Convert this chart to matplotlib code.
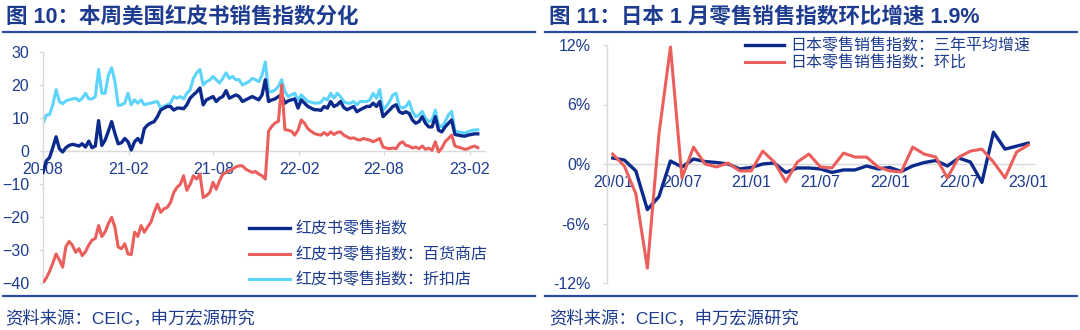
import matplotlib
matplotlib.use('Agg')
import matplotlib.pyplot as plt
import pandas as pd
import numpy as np

plt.rcParams['font.family'] = ['Liberation Sans', 'Noto Sans CJK SC']

# ---------------- data: left chart (weekly, Redbook YoY %) ----------------
start_date = '2020-08-01'
redbook_total = [
    -6.5, -3.0, -2.0, 1.0, 4.3, 0.7, -0.3, 1.0, 1.7, 2.0,
    1.8, 1.5, 2.2, 1.2, 3.0, 1.0, 1.5, 9.2, 1.7, 3.3,
    6.0, 8.9, 5.3, 2.2, 2.5, 3.8, 2.8, 0.3, 2.8, 3.8,
    2.5, 6.8, 7.9, 8.5, 8.9, 10.4, 12.4, 13.0, 13.5, 13.5,
    12.4, 13.0, 13.0, 12.8, 14.0, 16.0, 17.0, 17.9, 19.1, 14.0,
    15.5, 16.0, 16.5, 15.0, 16.0, 16.5, 18.3, 16.0, 16.5, 17.0,
    16.5, 15.0, 15.5, 16.0, 16.5, 16.0, 15.5, 17.0, 21.6, 15.0,
    15.5, 15.8, 16.5, 17.0, 14.5, 15.2, 15.5, 15.8, 13.0, 15.5,
    14.5, 13.5, 13.0, 12.5, 12.5, 12.3, 13.5, 13.0, 15.0, 13.5,
    14.0, 15.0, 13.2, 12.5, 13.0, 13.5, 11.9, 12.5, 13.0, 13.5,
    13.5, 14.5, 13.5, 15.0, 10.4, 11.4, 12.4, 13.5, 14.0, 11.9,
    11.4, 11.9, 11.4, 9.4, 8.4, 8.9, 10.4, 8.4, 7.3, 7.3,
    10.4, 6.3, 5.8, 7.3, 8.4, 9.4, 5.0, 4.8, 4.6, 4.5,
    4.8, 5.0, 5.2, 5.2,
]
redbook_dept = [
    -40.0, -38.5, -36.5, -34.0, -31.2, -33.0, -35.2, -29.0, -27.4, -28.6,
    -30.7, -29.6, -31.7, -30.5, -28.5, -27.0, -26.5, -22.6, -25.9, -24.5,
    -22.0, -20.1, -23.1, -29.1, -29.6, -28.1, -31.2, -31.4, -24.6, -25.9,
    -22.6, -24.6, -23.0, -21.6, -18.6, -16.1, -18.6, -17.5, -17.1, -15.6,
    -12.6, -11.0, -10.1, -7.5, -11.9, -10.1, -7.5, -8.5, -7.0, -14.1,
    -13.5, -12.6, -9.5, -11.6, -9.0, -7.0, -6.5, -6.0, -5.5, -4.8,
    -4.5, -4.5, -5.5, -6.0, -6.5, -6.2, -7.0, -7.5, -8.5, 6.0,
    7.5, 8.5, 9.0, 20.0, 6.5, 6.3, 6.0, 4.8, 6.3, 9.4,
    8.4, 6.8, 6.0, 5.3, 5.0, 4.8, 5.6, 4.8, 5.8, 5.0,
    5.6, 5.8, 4.8, 4.3, 3.8, 4.0, 3.5, 3.3, 3.8, 3.5,
    3.3, 2.8, 3.3, 3.8, 1.2, 0.9, 0.7, 0.9, 0.7, 2.2,
    2.8, 1.7, 1.5, 0.9, 1.2, 0.7, 1.5, 0.5, 0.9, 0.2,
    2.8, -0.3, 0.9, 2.8, 3.8, 4.8, 1.5, 1.2, 0.9, 0.5,
    0.7, 1.2, 1.5, 1.0,
]
redbook_discount = [
    8.4, 10.9, 11.0, 14.0, 18.6, 15.0, 14.3, 15.2, 15.5, 15.8,
    16.0, 15.2, 16.0, 17.5, 15.8, 15.8, 16.5, 24.7, 17.5, 17.5,
    23.0, 25.2, 21.0, 13.8, 14.0, 14.5, 17.5, 14.0, 15.5, 14.5,
    15.5, 14.0, 14.3, 14.5, 14.8, 15.0, 13.0, 13.5, 14.0, 14.5,
    16.5, 16.0, 16.5, 15.8, 17.5, 18.5, 22.0, 23.7, 24.7, 20.0,
    21.0, 21.5, 22.6, 21.6, 20.6, 22.0, 23.7, 22.0, 22.6, 21.6,
    21.6, 20.0, 20.5, 21.0, 22.0, 21.6, 21.0, 23.0, 27.0, 18.0,
    18.0, 18.5, 19.6, 21.6, 18.0, 16.5, 17.0, 17.5, 15.5, 17.0,
    16.0, 15.0, 14.8, 14.5, 14.5, 14.8, 16.0, 15.5, 17.5, 16.0,
    17.5, 16.5, 15.0, 14.5, 14.5, 15.0, 14.0, 15.0, 15.0, 15.0,
    15.5, 17.5, 16.0, 18.6, 12.4, 13.5, 15.0, 17.0, 17.5, 13.5,
    13.0, 13.5, 15.0, 12.0, 10.4, 10.9, 12.0, 9.9, 8.9, 9.4,
    12.4, 7.9, 7.3, 8.9, 10.9, 12.0, 6.0, 5.8, 5.6, 5.5,
    5.8, 6.2, 6.4, 6.4,
]
left_tick_dates = ['2020-08-01', '2021-02-01', '2021-08-01', '2022-02-01', '2022-08-01', '2023-02-01']
left_tick_labels = ['20-08', '21-02', '21-08', '22-02', '22-08', '23-02']
left_yticks = [30, 20, 10, 0, -10, -20, -30, -40]
left_names = ['红皮书零售指数', '红皮书零售指数：百货商店', '红皮书零售指数：折扣店']

# ---------------- data: right chart (monthly, Japan retail %) ----------------
months = ['20/01', '20/02', '20/03', '20/04', '20/05', '20/06', '20/07', '20/08', '20/09', '20/10',
          '20/11', '20/12', '21/01', '21/02', '21/03', '21/04', '21/05', '21/06', '21/07', '21/08',
          '21/09', '21/10', '21/11', '21/12', '22/01', '22/02', '22/03', '22/04', '22/05', '22/06',
          '22/07', '22/08', '22/09', '22/10', '22/11', '22/12', '23/01']
jp_3yr_avg = [0.6, 0.4, -0.7, -4.6, -3.3, 0.3, -0.3, 0.5, 0.25, 0.15,
              0.0, -0.5, -0.35, 0.0, 0.1, -0.85, -0.4, -0.4, -0.5, -0.85,
              -0.6, -0.6, -0.2, -0.5, -0.35, -0.75, -0.2, 0.15, 0.35, -0.2,
              0.6, 0.2, -1.85, 3.2, 1.5, 1.8, 2.1]
jp_mom = [1.0, -0.2, -3.0, -10.5, 3.0, 11.8, -1.4, 1.7, 0.0, -0.3,
          0.1, -0.7, -0.7, 1.3, 0.2, -1.8, 0.2, 1.0, -0.3, -0.4,
          1.1, 0.7, 0.7, -0.3, -0.7, -0.8, 1.7, 1.0, 0.7, -1.4,
          0.7, 1.3, 1.5, 0.2, -1.4, 1.2, 1.9]
right_yticks = [12, 6, 0, -6, -12]
right_names = ['日本零售销售指数：三年平均增速', '日本零售销售指数：环比']

# ---------------- styles ----------------
NAVY = '#1d3c8f'
DARK_BLUE = '#0b2a8c'
RED = '#ea5f5c'
CYAN = '#5dd4fd'
GRID = '#d9d9d9'
RULE = '#2c4ba3'

W, H = 1080, 330
fig = plt.figure(figsize=(W / 100, H / 100), dpi=100)

def fx(px):
    return px / W

def fy(py):
    return 1 - py / H

# titles, rules, sources
fig.text(fx(6), fy(17), '图 10：本周美国红皮书销售指数分化', fontsize=15.5, fontweight='bold',
         color=NAVY, va='center', ha='left')
fig.text(fx(549), fy(17), '图 11：日本 1 月零售销售指数环比增速 1.9%', fontsize=15.5, fontweight='bold',
         color=NAVY, va='center', ha='left')
for x0, x1 in [(3, 535), (545, 1077)]:
    fig.add_artist(plt.Line2D([fx(x0), fx(x1)], [fy(31.5), fy(31.5)], color=RULE, lw=1.6))
    fig.add_artist(plt.Line2D([fx(x0), fx(x1)], [fy(295.5), fy(295.5)], color=RULE, lw=1.6))
fig.text(fx(5), fy(318), '资料来源：CEIC，申万宏源研究', fontsize=12.5, color=NAVY, va='center', ha='left')
fig.text(fx(549), fy(318), '资料来源：CEIC，申万宏源研究', fontsize=12.5, color=NAVY, va='center', ha='left')

# ---------------- left chart ----------------
axL = fig.add_axes([fx(43), fy(283), fx(485 - 43), (283 - 52) / H])
dates = pd.date_range(start_date, periods=len(redbook_total), freq='7D')
axL.plot(dates, redbook_discount, color=CYAN, lw=2.2, label=left_names[2], zorder=2)
axL.plot(dates, redbook_total, color=DARK_BLUE, lw=2.4, label=left_names[0], zorder=3)
axL.plot(dates, redbook_dept, color=RED, lw=2.2, label=left_names[1], zorder=4)
axL.set_ylim(-40, 30)
axL.set_yticks(left_yticks)
axL.set_xlim(dates[0], dates[0] + pd.Timedelta(days=7 * 135.2))
axL.set_xticks(pd.to_datetime(left_tick_dates))
axL.set_xticklabels(left_tick_labels)
axL.spines['top'].set_visible(False)
axL.spines['right'].set_visible(False)
axL.spines['bottom'].set_position(('data', 0))
for s in ['left', 'bottom']:
    axL.spines[s].set_color(GRID)
    axL.spines[s].set_linewidth(1.0)
axL.tick_params(axis='both', colors=GRID, labelcolor=NAVY, labelsize=11.5, length=3, width=1)
axL.tick_params(axis='x', pad=5)
axL.tick_params(axis='y', pad=7)
handles, labels = axL.get_legend_handles_labels()
order = [1, 2, 0]
legL = axL.legend([handles[i] for i in order], [labels[i] for i in order],
                  loc='lower left', bbox_to_anchor=(0.466, -0.02), frameon=False,
                  fontsize=11.5, handlelength=2.55, handletextpad=0.35, labelspacing=0.62,
                  borderaxespad=0, borderpad=0)
for t in legL.get_texts():
    t.set_color(NAVY)

# ---------------- right chart ----------------
axR = fig.add_axes([fx(607), fy(283), fx(1035 - 607), (283 - 45) / H])
xi = np.arange(len(months))
axR.plot(xi, jp_3yr_avg, color=DARK_BLUE, lw=2.4, label=right_names[0], zorder=3)
axR.plot(xi, jp_mom, color=RED, lw=2.2, label=right_names[1], zorder=4)
axR.set_ylim(-12, 12)
axR.set_yticks(right_yticks)
axR.set_yticklabels([f'{v}%' for v in right_yticks])
axR.set_xlim(-0.5, 36.6)
axR.set_xticks(xi[::6])
axR.set_xticklabels([months[i] for i in xi[::6]])
axR.set_xticks(np.arange(-0.5, 37, 6), minor=True)
axR.spines['top'].set_visible(False)
axR.spines['right'].set_visible(False)
axR.spines['bottom'].set_position(('data', 0))
for s in ['left', 'bottom']:
    axR.spines[s].set_color(GRID)
    axR.spines[s].set_linewidth(1.0)
axR.tick_params(axis='both', colors=GRID, labelcolor=NAVY, labelsize=11.5, length=3, width=1)
axR.tick_params(axis='x', which='major', length=0, pad=8)
axR.tick_params(axis='x', which='minor', length=3, color=GRID)
axR.tick_params(axis='y', pad=9)
legR = axR.legend(loc='upper left', bbox_to_anchor=(0.322, 1.03), frameon=False,
                  fontsize=11.5, handlelength=2.45, handletextpad=0.4, labelspacing=0.1,
                  borderaxespad=0, borderpad=0)
for t in legR.get_texts():
    t.set_color(NAVY)

fig.savefig('out.png', dpi=100)
